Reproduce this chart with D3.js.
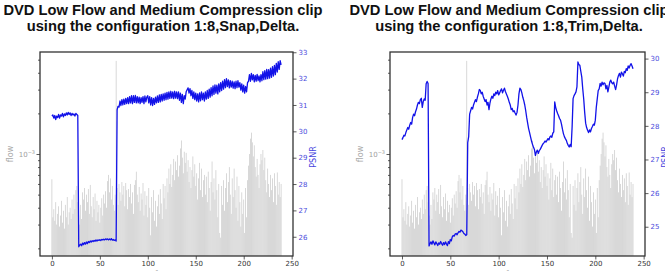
<!doctype html>
<html lang="en">
<head>
<meta charset="utf-8">
<title>DVD Low Flow and Medium Compression clip</title>
<script src="https://cdn.jsdelivr.net/npm/d3@7"></script>
<style>
  body { margin: 0; background: #fff; }
  svg { display: block; font-family: "DejaVu Sans", sans-serif; }
  .title { font-family: "Liberation Sans", Arial, sans-serif; font-weight: bold; font-size: 14.7px; fill: #111; }
</style>
</head>
<body>
<svg></svg>
<script>
var width = 665;
var height = 271;

// flow per frame, in units of 1e-4 (same clip in both panels)
var flow = [
  6.5, 3.4, 3.9, 3.2, 4.4, 3.0, 3.6, 4.1, 2.9, 3.5,
  4.5, 3.1, 3.8, 2.8, 4.2, 3.4, 4.8, 3.0, 3.7, 4.0,
  3.3, 4.6, 3.6, 5.0, 3.9, 5.4, 5.8, 4.4, 3.5, 3.0,
  4.2, 3.3, 5.2, 4.6, 5.6, 3.8, 5.0, 4.4, 5.5, 3.6,
  5.9, 4.1, 3.4, 4.8, 3.9, 5.1, 3.2, 4.5, 3.7, 4.2,
  3.1, 4.0, 4.7, 3.5, 5.0, 4.3, 5.3, 4.0, 6.3, 7.0,
  5.2, 6.6, 4.6, 5.8, 4.2, 3.8, 5.0, 49, 5.6, 4.2,
  6.0, 5.2, 4.5, 6.2, 5.0, 5.8, 4.1, 6.1, 5.4, 3.9,
  5.5, 4.8, 6.0, 4.3, 5.2, 3.6, 5.9, 6.4, 7.4, 5.0,
  4.4, 5.7, 3.8, 5.1, 4.6, 6.1, 3.5, 5.3, 4.2, 4.9,
  3.4, 5.6, 4.0, 2.5, 4.8, 3.7, 5.4, 3.2, 4.5, 2.9,
  4.1, 5.0, 3.6, 5.5, 4.3, 3.3, 6.0, 4.7, 5.8, 3.9,
  6.6, 5.2, 7.8, 6.0, 8.4, 5.7, 7.0, 9.2, 6.4, 8.8,
  7.6, 9.8, 6.8, 8.2, 11.0, 12.6, 9.4, 7.2, 10.4, 8.6,
  10.2, 7.4, 9.0, 6.2, 8.0, 5.6, 7.6, 9.6, 6.8, 8.4,
  5.8, 7.2, 4.6, 6.6, 8.6, 5.4, 7.8, 4.8, 6.4, 7.0,
  5.0, 6.8, 4.4, 7.4, 5.6, 3.8, 6.2, 8.8, 5.2, 6.6,
  4.6, 7.6, 5.4, 3.4, 6.0, 2.6, 2.4, 5.8, 4.2, 6.4,
  3.8, 5.6, 7.2, 4.4, 6.2, 8.0, 5.0, 3.6, 6.6, 4.8,
  7.8, 5.4, 4.0, 6.8, 3.2, 5.8, 4.4, 2.9, 5.2, 3.6,
  4.6, 2.6, 5.6, 3.4, 6.4, 8.2, 10.0, 13.0, 14.4, 12.2,
  9.6, 11.6, 8.0, 6.8, 9.2, 7.0, 5.6, 8.4, 10.0, 9.0,
  10.7, 7.6, 9.4, 6.4, 5.2, 7.8, 6.0, 4.8, 7.0, 5.4,
  6.6, 4.4, 7.2, 5.8, 4.2, 7.3, 5.0, 6.2, 4.8, 6.0
];

// PSNR per frame, configuration 1:8,Snap,Delta
var psnrSnap = [
  30.58, 30.62, 30.50, 30.60, 30.45, 30.58, 30.52, 30.64, 30.50, 30.62,
  30.58, 30.68, 30.55, 30.66, 30.60, 30.70, 30.62, 30.72, 30.64, 30.70,
  30.60, 30.68, 30.62, 30.66, 30.58, 30.68, 30.64, 30.60, 25.62, 25.68,
  25.72, 25.66, 25.76, 25.70, 25.78, 25.72, 25.80, 25.74, 25.82, 25.78,
  25.84, 25.80, 25.85, 25.82, 25.86, 25.83, 25.88, 25.84, 25.88, 25.86,
  25.89, 25.86, 25.90, 25.88, 25.91, 25.88, 25.92, 25.89, 25.92, 25.88,
  25.92, 25.88, 25.93, 25.87, 25.90, 25.86, 25.88, 25.84, 30.82, 30.95,
  30.92, 31.15, 30.98, 31.20, 31.00, 31.22, 31.02, 31.25, 31.05, 31.28,
  31.05, 31.32, 31.08, 31.35, 31.05, 31.35, 31.10, 31.36, 31.08, 31.32,
  31.08, 31.30, 31.05, 31.28, 31.10, 31.32, 31.05, 31.34, 31.12, 31.30,
  31.35, 31.08, 31.32, 31.00, 31.28, 30.98, 31.25, 31.02, 31.30, 31.08,
  31.34, 31.10, 31.38, 31.12, 31.40, 31.15, 31.42, 31.18, 31.45, 31.20,
  31.48, 31.22, 31.50, 31.25, 31.52, 31.26, 31.50, 31.24, 31.52, 31.26,
  31.50, 31.24, 31.50, 31.18, 31.45, 31.10, 31.40, 31.05, 31.35, 31.22,
  31.50, 31.58, 31.65, 31.45, 31.62, 31.35, 31.55, 31.25, 31.50, 31.20,
  31.45, 31.15, 31.42, 31.12, 31.46, 31.16, 31.50, 31.20, 31.45, 31.15,
  31.50, 31.22, 31.55, 31.25, 31.60, 31.30, 31.66, 31.35, 31.72, 31.40,
  31.76, 31.45, 31.75, 31.42, 31.80, 31.50, 31.85, 31.55, 31.90, 31.60,
  31.96, 31.66, 32.00, 31.70, 31.95, 31.65, 31.92, 31.68, 31.90, 31.64,
  31.88, 31.62, 31.90, 31.66, 31.92, 31.68, 31.85, 31.56, 31.80, 31.50,
  31.75, 31.45, 31.70, 31.50, 31.85, 31.90, 32.15, 31.90, 32.20, 31.95,
  32.15, 31.88, 32.12, 31.90, 32.16, 31.92, 32.10, 31.88, 32.15, 31.92,
  32.26, 31.96, 32.30, 31.98, 32.35, 32.00, 32.34, 32.02, 32.40, 32.05,
  32.45, 32.10, 32.50, 32.15, 32.58, 32.25, 32.64, 32.35, 32.68, 32.52
];

// PSNR per frame, configuration 1:8,Trim,Delta
var psnrTrim = [
  27.59, 27.65, 27.72, 27.70, 27.80, 27.88, 27.95, 27.90, 28.02, 28.10,
  28.05, 28.25, 28.35, 28.30, 28.42, 28.50, 28.62, 28.70, 28.66, 28.78,
  28.82, 28.55, 28.72, 28.80, 28.76, 29.25, 29.32, 29.26, 24.43, 24.50,
  24.55, 24.48, 24.58, 24.52, 24.46, 24.55, 24.50, 24.44, 24.52, 24.48,
  24.56, 24.50, 24.45, 24.53, 24.47, 24.55, 24.49, 24.44, 24.56, 24.50,
  24.62, 24.58, 24.70, 24.74, 24.72, 24.78, 24.80, 24.76, 24.82, 24.86,
  24.84, 24.90, 24.88, 24.85, 24.80, 24.78, 24.74, 24.76, 27.50, 27.68,
  28.35, 28.45, 28.55, 28.50, 28.62, 28.70, 28.78, 28.72, 28.85, 28.95,
  29.08, 29.05, 28.95, 29.00, 28.88, 28.80, 28.72, 28.78, 28.62, 28.70,
  28.48, 28.68, 28.80, 28.88, 28.82, 28.95, 28.90, 29.00, 28.95, 29.05,
  28.92, 28.98, 29.05, 29.10, 28.98, 29.06, 29.12, 29.02, 28.95, 28.88,
  28.80, 28.70, 28.62, 28.48, 28.52, 28.42, 28.45, 28.38, 28.32, 28.40,
  28.62, 28.95, 29.12, 29.08, 28.98, 28.85, 28.75, 28.62, 28.45, 28.25,
  28.08, 27.92, 27.80, 27.67, 27.55, 27.45, 27.37, 27.30, 27.12, 27.22,
  27.28, 27.18, 27.26, 27.30, 27.36, 27.42, 27.47, 27.50, 27.55, 27.52,
  27.57, 27.62, 27.58, 27.67, 27.70, 27.66, 27.78, 27.82, 28.71, 28.55,
  28.45, 28.37, 28.30, 28.22, 28.17, 28.05, 27.90, 27.77, 27.68, 27.62,
  27.57, 27.48, 27.42, 27.37, 27.45, 27.38, 27.97, 28.81, 28.90, 28.95,
  29.01, 29.16, 29.90, 29.82, 29.80, 29.62, 29.45, 29.10, 28.80, 28.40,
  28.08, 27.95, 27.87, 27.80, 27.88, 27.82, 27.92, 27.98, 28.05, 28.02,
  28.17, 28.55, 28.80, 29.05, 29.10, 29.26, 29.18, 29.30, 29.22, 29.28,
  29.26, 29.10, 29.20, 29.01, 29.15, 29.30, 29.36, 29.28, 29.25, 29.30,
  29.18, 29.08, 29.22, 29.40, 29.50, 29.56, 29.45, 29.60, 29.55, 29.48,
  29.62, 29.58, 29.70, 29.65, 29.78, 29.72, 29.80, 29.85, 29.78, 29.70
];

var xTicks = [0, 50, 100, 150, 200, 250];
var psnrTicksSnap = [26, 27, 28, 29, 30, 31, 32, 33];
var psnrTicksTrim = [25, 26, 27, 28, 29, 30];
var titleLine1 = 'DVD Low Flow and Medium Compression clip';
var titlesLine2 = ['using the configuration 1:8,Snap,Delta.', 'using the configuration 1:8,Trim,Delta.'];

var panels = [
  { left: 40, right: 293, top: 52, bottom: 256, titleX: 163, psnr: psnrSnap,
    psnrDomain: [25.27, 33.01], psnrTicks: psnrTicksSnap, title2: titlesLine2[0] },
  { left: 390, right: 645, top: 52, bottom: 256, titleX: 509, psnr: psnrTrim,
    psnrDomain: [24.13, 30.196], psnrTicks: psnrTicksTrim, title2: titlesLine2[1] }
];

var svg = d3.select('svg').attr('width', width).attr('height', height);

var flowDomain = [1.755e-4, 5.7e-3];
var minorTicks = [];
[1e-4, 1e-3].forEach(function (base) {
  for (var k = 2; k <= 9; k++) {
    var v = k * base;
    if (v >= flowDomain[0] && v <= flowDomain[1]) minorTicks.push(v);
  }
});

function styleAxis(g, color) {
  g.select('.domain').remove();
  g.selectAll('.tick line').attr('stroke', '#333').attr('stroke-width', 0.8);
  g.selectAll('.tick text').attr('fill', color).attr('font-size', '7px')
    .attr('font-family', '"DejaVu Sans", sans-serif');
}

panels.forEach(function (p) {
  var g = svg.append('g');

  var x = d3.scaleLinear().domain([-12.4, 251.4]).range([p.left, p.right]);
  var yFlow = d3.scaleLog().domain(flowDomain).range([p.bottom, p.top]);
  var yPsnr = d3.scaleLinear().domain(p.psnrDomain).range([p.bottom, p.top]);

  // flow bars
  g.append('g')
    .selectAll('rect')
    .data(flow)
    .enter()
    .append('rect')
    .attr('x', function (d, i) { return x(i - 0.4); })
    .attr('width', x(0.4) - x(-0.4))
    .attr('y', function (d) { return yFlow(d * 1e-4); })
    .attr('height', function (d) { return p.bottom - yFlow(d * 1e-4); })
    .attr('fill', '#cdcdcd');

  // psnr line
  var line = d3.line()
    .x(function (d, i) { return x(i); })
    .y(function (d) { return yPsnr(d); });
  g.append('path')
    .datum(p.psnr)
    .attr('d', line)
    .attr('fill', 'none')
    .attr('stroke', '#1212e8')
    .attr('stroke-width', 1.3)
    .attr('stroke-linejoin', 'round');

  // frame
  g.append('rect')
    .attr('x', p.left).attr('y', p.top)
    .attr('width', p.right - p.left).attr('height', p.bottom - p.top)
    .attr('fill', 'none').attr('stroke', '#333').attr('stroke-width', 1.3);

  // x axis
  var xAxis = d3.axisBottom(x).tickValues(xTicks).tickSize(3.5).tickPadding(2);
  g.append('g')
    .attr('transform', 'translate(0,' + p.bottom + ')')
    .call(xAxis)
    .call(styleAxis, '#333');

  // flow axis (log): minor ticks + one major tick
  g.append('g')
    .attr('transform', 'translate(' + p.left + ',0)')
    .call(d3.axisLeft(yFlow).tickValues(minorTicks).tickSize(2).tickFormat(''))
    .call(styleAxis, '#999');
  g.append('g')
    .attr('transform', 'translate(' + p.left + ',0)')
    .call(d3.axisLeft(yFlow).tickValues([1e-3]).tickSize(3.5).tickFormat(''))
    .call(styleAxis, '#999');
  var lab = g.append('text')
    .attr('x', p.left - 5).attr('y', yFlow(1e-3) + 2.5)
    .attr('text-anchor', 'end').attr('fill', '#a0a0a0').attr('font-size', '7px');
  lab.append('tspan').text('10');
  lab.append('tspan').attr('dy', -3).attr('font-size', '5px').text('\u22123');

  g.append('text')
    .attr('transform', 'translate(' + (p.left - 27) + ',' + yFlow(1e-3) + ') rotate(-90)')
    .attr('text-anchor', 'middle').attr('fill', '#aaa').attr('font-size', '8px')
    .text('flow');

  // psnr axis
  g.append('g')
    .attr('transform', 'translate(' + p.right + ',0)')
    .call(d3.axisRight(yPsnr).tickValues(p.psnrTicks).tickSize(3.5).tickPadding(2).tickFormat(d3.format('d')))
    .call(styleAxis, '#4b4bdc');
  g.append('text')
    .attr('transform', 'translate(' + (p.right + 23) + ',' + ((p.top + p.bottom) / 2 + 3) + ') rotate(-90)')
    .attr('text-anchor', 'middle').attr('fill', '#4444dd').attr('font-size', '8px')
    .text('PSNR');

  // x label, mostly below the visible area as in the source image
  g.append('text')
    .attr('x', (p.left + p.right) / 2).attr('y', 277)
    .attr('text-anchor', 'middle').attr('fill', '#aaa').attr('font-size', '8px')
    .text('frame');

  // title
  svg.append('text').attr('class', 'title')
    .attr('x', p.titleX).attr('y', 15).attr('text-anchor', 'middle').text(titleLine1);
  svg.append('text').attr('class', 'title')
    .attr('x', p.titleX).attr('y', 31).attr('text-anchor', 'middle').text(p.title2);
});
</script>
</body>
</html>
